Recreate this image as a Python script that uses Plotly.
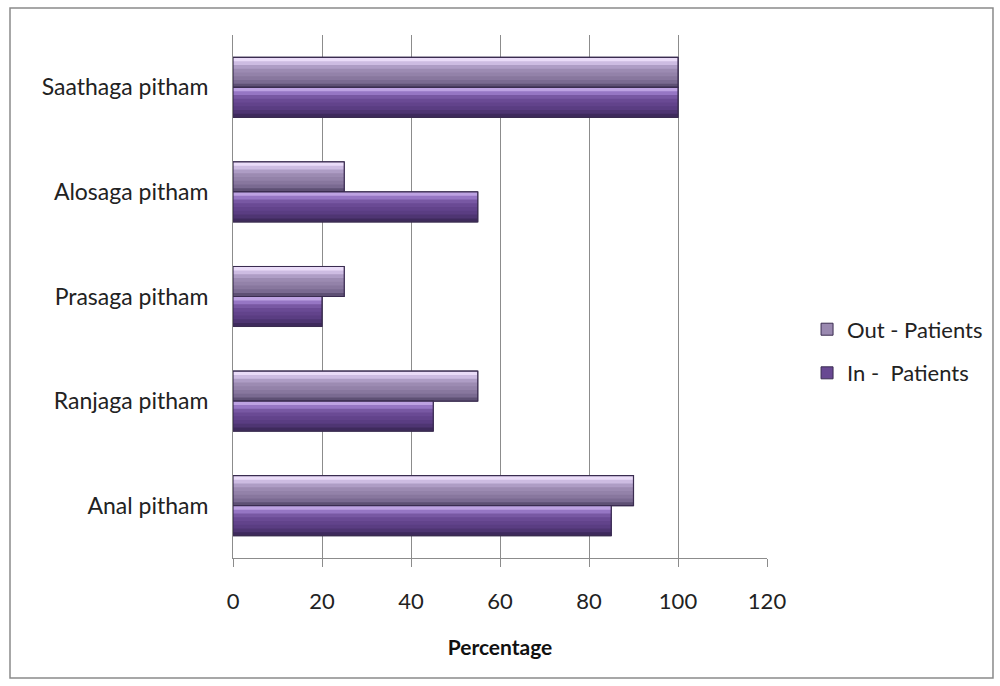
import plotly.graph_objects as go

# Categories listed bottom-to-top as drawn on the y axis
categories = ["Anal pitham", "Ranjaga pitham", "Prasaga pitham", "Alosaga pitham", "Saathaga pitham"]
out_patients = [90, 55, 25, 25, 100]
in_patients = [85, 45, 20, 55, 100]
x_ticks = [0, 20, 40, 60, 80, 100, 120]

FONT = "Lato"
BAR_W = 0.287  # thickness of one bar in category units

# (name, values, offset, shading colours from top edge to bottom edge, legend colour)
series = [
    ("Out - Patients", out_patients, 0.0,
     ["#eadcf8", "#cdbce2", "#ae9dc5", "#9c8bb2", "#9382a9", "#88779e", "#7a6a91", "#5e5074"], "#9a89b0"),
    ("In -  Patients", in_patients, -BAR_W,
     ["#bda2e2", "#9676c4", "#7858a3", "#6a4a94", "#62438b", "#5a3d82", "#4e3572", "#3e2a5c"], "#684892"),
]

fig = go.Figure()
for name, vals, off, shades, legend_col in series:
    n = len(shades)
    step = BAR_W / n
    # base bar (legend entry) with a darker outline
    fig.add_trace(go.Bar(
        y=categories, x=vals, orientation="h", name=name,
        marker=dict(color=legend_col, line=dict(color="#3a2c50", width=1)),
        width=BAR_W, offset=off, legendgroup=name, showlegend=True,
        hoverinfo="x+name",
    ))
    # stacked-down layers: each one covers the bar from its own top edge to the bottom,
    # so the top-to-bottom shading has no seams
    for k, c in enumerate(shades):
        fig.add_trace(go.Bar(
            y=categories, x=vals, orientation="h", name=name,
            marker=dict(color=c, line=dict(width=0)),
            width=BAR_W - k * step - 0.004, offset=off + 0.002,
            legendgroup=name, showlegend=False, hoverinfo="skip",
        ))
    # darker outline drawn over the shading
    fig.add_trace(go.Bar(
        y=categories, x=vals, orientation="h", name=name,
        marker=dict(color="rgba(0,0,0,0)", line=dict(color="#3a2c50", width=1.2)),
        width=BAR_W, offset=off, legendgroup=name, showlegend=False, hoverinfo="skip",
    ))

fig.update_layout(
    width=1000, height=686,
    barmode="overlay",
    paper_bgcolor="white", plot_bgcolor="white",
    margin=dict(l=233, r=233, t=35, b=128),
    font=dict(family=FONT, size=22, color="#222222"),
    showlegend=True,
    legend=dict(
        x=1.075, y=0.395, xanchor="left", yanchor="middle",
        font=dict(family=FONT, size=22, color="#222222"),
        traceorder="grouped", tracegroupgap=12, itemwidth=30,
        bgcolor="rgba(0,0,0,0)",
    ),
    xaxis=dict(
        range=[0, 120], tickvals=x_ticks, ticktext=[str(v) for v in x_ticks],
        showgrid=True, gridcolor="#8c8c8c", gridwidth=1,
        showline=True, linecolor="#8c8c8c", linewidth=1,
        ticks="outside", ticklen=8, tickcolor="#8c8c8c",
        ticklabelstandoff=16, zeroline=False,
        tickfont=dict(family=FONT, size=22, color="#222222"),
        title=dict(text="<b>Percentage</b>", standoff=26,
                   font=dict(family=FONT, size=21, color="#111111")),
    ),
    yaxis=dict(
        type="category", categoryorder="array", categoryarray=categories,
        range=[-0.5, 4.5], showgrid=False, zeroline=False,
        showline=True, linecolor="#8c8c8c", linewidth=1,
        ticks="", ticklabelstandoff=19,
        tickfont=dict(family=FONT, size=23, color="#222222"),
    ),
    shapes=[dict(
        type="rect", xref="paper", yref="paper",
        x0=-0.4176, x1=1.4232, y0=-0.2294, y1=1.0516,
        line=dict(color="#8a8a8a", width=1.5), fillcolor="rgba(0,0,0,0)", layer="below",
    )],
)

fig.write_html("out.html")
